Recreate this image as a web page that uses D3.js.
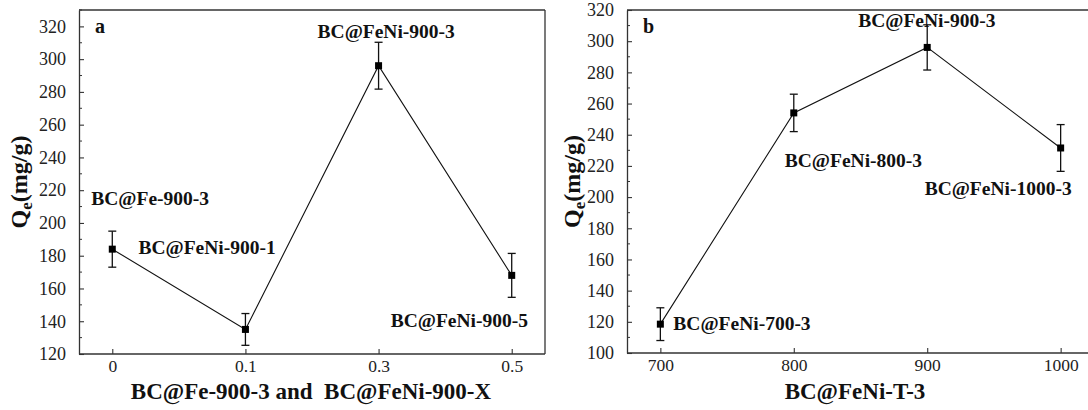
<!DOCTYPE html>
<html>
<head>
<meta charset="utf-8">
<script src="https://cdn.jsdelivr.net/npm/d3@7"></script>
<style>
  body { margin: 0; background: #fff; }
  svg { display: block; }
  svg text { font-family: "Liberation Serif", "Times New Roman", serif !important; }
</style>
</head>
<body>
<svg id="chart" width="1088" height="410"></svg>
<script>
// ---- data ----
const catsA = ["0", "0.1", "0.3", "0.5"];
const qeA = [184, 135, 296, 168];
const errA = [11, 9.7, 14.3, 13.4];
const labelsA = ["BC@Fe-900-3", "BC@FeNi-900-1", "BC@FeNi-900-3", "BC@FeNi-900-5"];

const tempsB = [700, 800, 900, 1000];
const qeB = [118.5, 254, 296, 231.5];
const errB = [10.5, 12, 14.5, 15];
const labelsB = ["BC@FeNi-700-3", "BC@FeNi-800-3", "BC@FeNi-900-3", "BC@FeNi-1000-3"];

const yTicksA = [120, 140, 160, 180, 200, 220, 240, 260, 280, 300, 320];
const yTicksB = [100, 120, 140, 160, 180, 200, 220, 240, 260, 280, 300, 320];
const xTicksB = [700, 800, 900, 1000];

// label offsets (px) from each point
const offA = [[-21, -44], [-107, -75], [-61, -28], [-121, 52]];
const offB = [[13, 6], [-9, 54], [-69, -20], [-136, 47]];

const svg = d3.select("#chart");
const axisColor = "#333";
const FONT = "Liberation Serif";

function panel(opts) {
  const { left, right, top, bottom, x, y, xs, ys, errs, labels, offs, yTicks, minorStep, xTickVals, xFmt, letter, xTitle, yTitleX, closeRight } = opts;
  const g = svg.append("g");

  g.append("line").attr("x1", left).attr("x2", right).attr("y1", top).attr("y2", top)
    .attr("stroke", axisColor).attr("stroke-width", 1.3);
  if (closeRight) {
    g.append("line").attr("x1", right).attr("x2", right).attr("y1", top).attr("y2", bottom)
      .attr("stroke", axisColor).attr("stroke-width", 1.3);
  }

  // y axis
  const yAxis = d3.axisLeft(y).tickValues(yTicks).tickSizeInner(-5).tickSizeOuter(0).tickPadding(13);
  const ya = g.append("g").attr("transform", `translate(${left},0)`).call(yAxis);
  ya.attr("font-family", FONT);
  ya.select(".domain").attr("stroke", axisColor).attr("stroke-width", 1.3);
  ya.selectAll(".tick line").attr("stroke", axisColor).attr("stroke-width", 1.1);
  ya.selectAll(".tick text").attr("font-size", 18).attr("fill", "#222").style("font-family", FONT);
  const [y0, y1] = y.domain();
  const minors = d3.range(Math.ceil(y0 / minorStep) * minorStep, y1 + 0.001, minorStep)
    .filter(v => !yTicks.includes(v));
  g.selectAll(null).data(minors).enter().append("line")
    .attr("x1", left).attr("x2", left + 3)
    .attr("y1", d => y(d)).attr("y2", d => y(d))
    .attr("stroke", axisColor).attr("stroke-width", 1);

  // x axis
  const xAxis = (xTickVals ? d3.axisBottom(x).tickValues(xTickVals) : d3.axisBottom(x))
    .tickSizeInner(-5).tickSizeOuter(0).tickPadding(6);
  if (xFmt) xAxis.tickFormat(xFmt);
  const xa = g.append("g").attr("transform", `translate(0,${bottom})`).call(xAxis);
  xa.attr("font-family", FONT);
  xa.select(".domain").attr("stroke", axisColor).attr("stroke-width", 1.3)
    .attr("d", `M${left},0H${right}`);
  xa.selectAll(".tick line").attr("stroke", axisColor).attr("stroke-width", 1.1);
  xa.selectAll(".tick text").attr("font-size", 17.5).attr("fill", "#222").style("font-family", FONT);

  // line
  const pts = xs.map((v, i) => [x(v), y(ys[i])]);
  g.append("path").attr("d", d3.line()(pts)).attr("fill", "none")
    .attr("stroke", "#111").attr("stroke-width", 1.1);

  // error bars
  xs.forEach((v, i) => {
    const cx = x(v), yt = y(ys[i] + errs[i]), yb = y(ys[i] - errs[i]);
    g.append("line").attr("x1", cx).attr("x2", cx).attr("y1", yt).attr("y2", yb)
      .attr("stroke", "#111").attr("stroke-width", 1.3);
    [yt, yb].forEach(yy => g.append("line").attr("x1", cx - 4).attr("x2", cx + 4)
      .attr("y1", yy).attr("y2", yy).attr("stroke", "#111").attr("stroke-width", 1.3));
  });

  // markers
  g.selectAll(null).data(pts).enter().append("rect")
    .attr("x", d => d[0] - 3.5).attr("y", d => d[1] - 3.5)
    .attr("width", 7).attr("height", 7).attr("fill", "#000");

  // point labels
  labels.forEach((t, i) => {
    g.append("text").attr("x", pts[i][0] + offs[i][0]).attr("y", pts[i][1] + offs[i][1])
      .style("font-family", FONT)
      .attr("font-size", 19.5).attr("font-weight", "bold").attr("fill", "#111").text(t);
  });

  // panel letter
  g.append("text").attr("x", left + 16).attr("y", top + 23).style("font-family", FONT)
    .attr("font-size", 20).attr("font-weight", "bold").attr("fill", "#111").text(letter);

  // x title
  g.append("text").attr("x", xTitle.x).attr("y", 399).attr("text-anchor", "middle")
    .style("font-family", FONT)
    .attr("font-size", 23).attr("font-weight", "bold").attr("fill", "#111")
    .text(xTitle.text);

  // y title
  const yt = g.append("text")
    .attr("transform", `translate(${yTitleX},${(top + bottom) / 2}) rotate(-90)`)
    .style("font-family", FONT)
    .attr("text-anchor", "middle").attr("font-size", 24).attr("font-weight", "bold").attr("fill", "#111");
  yt.append("tspan").text("Q");
  yt.append("tspan").attr("font-size", 17).attr("dy", 5).text("e");
  yt.append("tspan").attr("dy", -5).text("(mg/g)");
}

// Panel a
const xA = d3.scalePoint().domain(catsA).range([79, 545]).padding(0.25);
const yA = d3.scaleLinear().domain([120, 330]).range([354, 10]);
panel({
  left: 79, right: 545, top: 10, bottom: 354, x: xA, y: yA,
  xs: catsA, ys: qeA, errs: errA, labels: labelsA, offs: offA,
  yTicks: yTicksA, minorStep: 10, xTickVals: null, xFmt: null, letter: "a",
  xTitle: { x: 311, text: "BC@Fe-900-3 and\u00A0\u00A0BC@FeNi-900-X" }, yTitleX: 27, closeRight: true
});

// Panel b
const xB = d3.scaleLinear().domain([675, 1025]).range([627, 1094]);
const yB = d3.scaleLinear().domain([100, 320]).range([353, 10]);
panel({
  left: 627, right: 1094, top: 10, bottom: 353, x: xB, y: yB,
  xs: tempsB, ys: qeB, errs: errB, labels: labelsB, offs: offB,
  yTicks: yTicksB, minorStep: 10, xTickVals: xTicksB, xFmt: d3.format("d"), letter: "b",
  xTitle: { x: 855, text: "BC@FeNi-T-3" }, yTitleX: 580, closeRight: false
});
</script>
</body>
</html>
